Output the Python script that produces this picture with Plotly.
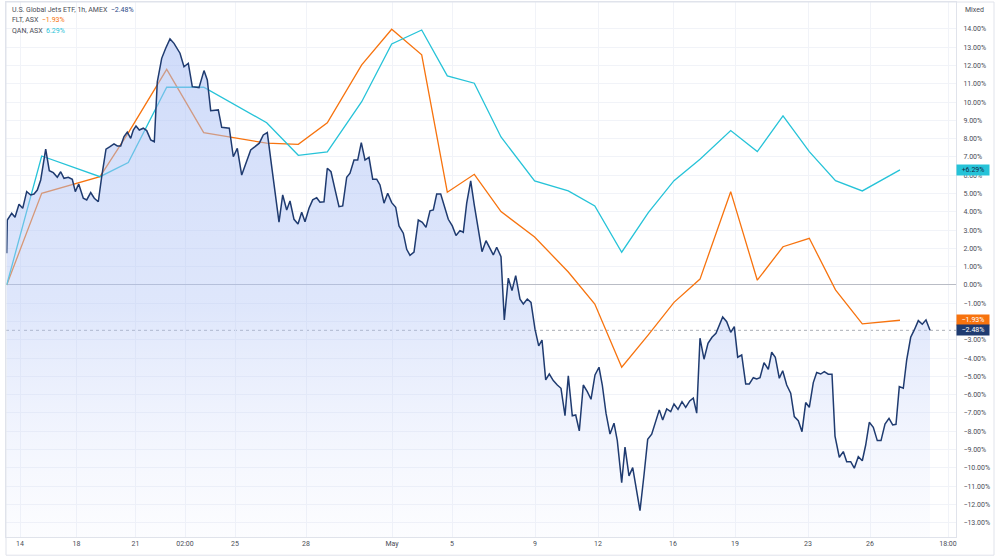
import plotly.graph_objects as go

# ---- data (time axis in session-hour units, values in % change) ----
jets_t = [6.7, 7.3, 11.7, 15, 19, 22.7, 26.7, 30.7, 34, 37.3, 40.7, 43.3, 45.7, 49.3, 53.3, 57.3, 60.7, 64, 68.3, 72.3,
          75.3, 78.7, 83.3, 86.7, 90.7, 94.3, 98.3, 101.7, 106, 110, 114, 117.3, 120.7, 124, 127.3, 130.7, 133.3, 136, 139.3, 143.3,
          146.7, 150.7, 154.3, 157.3, 161.7, 165.7, 170, 174, 180, 184, 188.3, 192.3, 199, 204, 207.3, 210.7, 218.3, 221.7, 229.3, 233.3,
          237.3, 241.7, 246.7, 250.7, 255, 259.3, 263.3, 267.3, 271.7, 279, 282.7, 286.7, 290, 294, 298, 301.7, 305, 309, 312.7, 316.7,
          320, 324, 327.3, 331, 335, 339, 342.7, 346.7, 350, 354, 357.7, 361.3, 365, 369, 372.7, 376.7, 380, 384, 387.7, 391.7,
          395.7, 399, 403.3, 406.7, 410, 414, 418.3, 422.3, 426, 430, 433.3, 436.7, 440.7, 444.3, 448.3, 452.3, 456, 460, 463.3, 466.7,
          470.7, 474.3, 478.3, 482, 486, 490, 493.3, 496.7, 501, 504.3, 508.3, 512, 515.7, 520, 523.3, 527.3, 531, 535, 538.7, 542,
          545.7, 549.3, 553.3, 557.3, 561, 565, 568.3, 572.3, 575.7, 579.3, 583.3, 587.3, 591, 595, 599, 602.3, 606, 610, 614, 617.3,
          621.7, 625, 629, 632.7, 636.7, 640, 644, 647.7, 651.7, 655.7, 659.3, 662.7, 666.7, 670.7, 674, 678, 682, 685.7, 689.7, 693.3,
          696.7, 700, 704, 708, 712, 716, 719.3, 722.7, 726.7, 730.7, 734.3, 737.7, 741.7, 745.7, 749.3, 753.3, 756.7, 760, 764, 768.3,
          771.7, 775.3, 779.3, 782.7, 786.7, 790.7, 794.3, 798.3, 802, 805.7, 809.3, 813.3, 816.7, 820.7, 824.3, 828.3, 832, 835, 839.3, 843.3,
          846.7, 850.7, 854.3, 858.3, 862.3, 865.7, 869.3, 873.3, 877.3, 881, 885, 889, 892.7, 896, 899.3, 903.3, 906.7, 910.7, 914.3, 918.3,
          922.3, 926, 930]
jets_pct = [1.73, 3.55, 3.92, 3.70, 4.41, 4.19, 5.10, 4.92, 4.97, 5.19, 5.74, 6.65, 7.42, 6.25, 6.14, 5.89, 6.19, 5.83, 5.89, 5.78,
            5.10, 5.52, 4.74, 4.65, 5.05, 4.74, 4.55, 5.92, 7.42, 7.56, 7.71, 7.60, 7.60, 8.11, 8.35, 8.02, 8.47, 8.69, 8.47, 8.57,
            8.44, 7.93, 7.83, 11.11, 12.39, 12.94, 13.45, 13.21, 12.67, 11.93, 12.12, 10.84, 10.79, 11.72, 11.21, 9.53, 9.57, 8.62, 8.57, 7.01,
            7.47, 6.01, 6.83, 7.38, 7.56, 7.75, 8.20, 8.33, 6.47, 3.43, 4.92, 4.10, 4.59, 3.59, 3.33, 3.97, 3.46, 4.19, 4.65, 4.77,
            4.52, 4.55, 6.38, 6.19, 5.23, 4.28, 4.32, 5.89, 6.11, 6.83, 6.83, 7.78, 6.83, 6.98, 5.78, 5.78, 5.47, 4.47, 5.01, 4.50,
            4.25, 3.23, 2.83, 1.95, 1.62, 1.80, 3.55, 3.43, 3.15, 4.05, 4.10, 4.97, 4.97, 4.28, 3.59, 3.23, 2.70, 2.97, 2.88, 4.47,
            5.69, 4.37, 3.10, 1.82, 2.42, 2.01, 1.64, 2.06, 1.55, -1.91, 0.37, -0.31, 0.51, -0.78, -1.04, -0.77, -0.95, -2.42, -3.33, -3.01,
            -5.19, -4.87, -5.23, -5.47, -5.65, -7.15, -4.97, -7.15, -7.11, -7.98, -5.47, -5.83, -6.25, -4.92, -4.50, -5.47, -7.01, -8.15, -7.56, -8.51,
            -10.81, -8.87, -10.44, -9.99, -11.21, -12.34, -10.39, -8.44, -8.16, -7.42, -6.83, -7.38, -6.78, -6.93, -6.51, -6.80, -6.38, -6.69, -6.34, -6.19,
            -7.01, -2.91, -4.06, -3.19, -2.86, -2.64, -2.24, -1.75, -2.01, -2.59, -2.28, -3.95, -3.83, -5.41, -5.41, -5.07, -5.14, -5.07, -4.25, -4.61,
            -3.68, -3.95, -5.10, -4.69, -5.47, -5.92, -7.20, -7.42, -8.02, -6.43, -6.69, -5.34, -4.79, -4.87, -4.74, -4.88, -4.88, -8.26, -9.42, -9.11,
            -9.66, -9.66, -10.02, -9.39, -9.61, -8.75, -7.51, -7.78, -8.51, -8.51, -7.60, -7.29, -7.65, -7.62, -5.56, -5.65, -4.10, -2.86, -2.46, -1.95,
            -2.15, -1.91, -2.48]

daily_t = [6.7, 41.7, 100, 128.3, 166.7, 203.7, 266.7, 298.3, 327.3, 361.7, 391.7, 421.7, 447.3, 474.3, 501, 534.6, 568.3,
           594.8, 621.7, 648.3, 674, 700, 730.7, 757.3, 783, 809.3, 835.5, 862.3, 900]
flt_pct = [0, 5.01, 5.92, 8.31, 11.79, 8.33, 7.75, 7.69, 8.87, 12.03, 13.98, 12.58, 5.07, 6.05, 4.01, 2.62, 0.71,
           -1.04, -4.50, -2.73, -0.95, 0.32, 5.10, 0.26, 2.09, 2.55, -0.27, -2.13, -1.93]
qan_pct = [0, 7.05, 5.92, 6.69, 10.81, 10.81, 8.87, 7.09, 7.27, 10.02, 13.18, 13.94, 11.43, 11.03, 8.09, 5.69, 5.14,
           4.32, 1.79, 3.95, 5.70, 6.87, 8.44, 7.29, 9.24, 7.29, 5.70, 5.14, 6.29]

x_tick_labels = ["14", "18", "21", "02:00", "25", "28", "May", "5", "9", "12", "16", "19", "23", "26", "18:00"]
x_tick_pos = [20, 76.5, 135.5, 185, 235, 306, 392, 452, 535, 598, 673, 735, 808, 870, 948]
y_ticks = list(range(-13, 15))

jets_last, flt_last, qan_last = -2.48, -1.93, 6.29

# ---- styling ----
NAVY = "#1f3b70"
ORANGE = "#f7730e"
CYAN = "#26c3d8"
GRID = "#f1f3f8"
BORDER = "#e0e3eb"
TXT = "#4a4d57"
FONT = "Roboto"
Y_MIN, Y_MAX = -13.78, 15.47
X_MIN, X_MAX = 6, 956


def pct(v, plus=False):
    s = f"{abs(v):.2f}%"
    if v < 0:
        return "\u2212" + s
    return ("+" + s) if plus else s


fig = go.Figure()

fig.add_trace(go.Scatter(x=daily_t, y=flt_pct, mode="lines", line=dict(color=ORANGE, width=1.3),
                         hoverinfo="skip", showlegend=False))
fig.add_trace(go.Scatter(x=daily_t, y=qan_pct, mode="lines", line=dict(color=CYAN, width=1.3),
                         hoverinfo="skip", showlegend=False))
# baseline at bottom of the chart for the area fill
fig.add_trace(go.Scatter(x=jets_t, y=[Y_MIN] * len(jets_t), mode="lines", line=dict(width=0, color="rgba(0,0,0,0)"),
                         hoverinfo="skip", showlegend=False))
fig.add_trace(go.Scatter(
    x=jets_t, y=jets_pct, mode="lines", line=dict(color=NAVY, width=1.5),
    fill="tonexty",
    fillgradient=dict(type="vertical", start=Y_MIN, stop=14,
                      colorscale=[[0, "rgba(215,223,252,0.08)"], [0.45, "rgba(178,197,246,0.42)"],
                                  [1, "rgba(168,190,245,0.55)"]]),
    hoverinfo="skip", showlegend=False))

# dotted price line for main series
fig.add_shape(type="line", xref="paper", yref="y", x0=0, x1=1, y0=jets_last, y1=jets_last,
              line=dict(color="#abaeb6", width=1, dash="dot"), layer="below")
# outer frame
fig.add_shape(type="rect", xref="paper", yref="paper", x0=0, x1=1.04, y0=-0.034, y1=1,
              line=dict(color=BORDER, width=1))

annotations = []
# legend lines
legend_rows = [
    ("U.S. Global Jets ETF, 1h, AMEX", jets_last, "#2b4a86", 0.985),
    ("FLT, ASX", flt_last, ORANGE, 0.966),
    ("QAN, ASX", qan_last, CYAN, 0.946),
]
for name, val, col, yp in legend_rows:
    annotations.append(dict(xref="paper", yref="paper", x=0.004, y=yp, xanchor="left", yanchor="middle",
                            showarrow=False, font=dict(family=FONT, size=7, color=TXT),
                            text=f"{name}  <span style='color:{col}'>{pct(val)}</span>"))
annotations.append(dict(xref="paper", yref="paper", x=1.0075, y=0.985, xanchor="left", yanchor="middle",
                        showarrow=False, font=dict(family=FONT, size=7, color=TXT), text="Mixed"))
# last-value badges
badges = [(qan_last, CYAN, "#152a4a", True), (flt_last, ORANGE, "white", False), (jets_last, NAVY, "white", False)]
for val, bg, fc, plus in badges:
    annotations.append(dict(xref="paper", yref="y", x=1.0005, y=val, xanchor="left", yanchor="middle",
                            showarrow=False, bgcolor=bg, width=30, height=8, borderpad=1,
                            font=dict(family=FONT, size=7, color=fc), text=pct(val, plus)))

fig.update_layout(
    width=1000, height=556,
    margin=dict(l=6, r=44, t=2, b=19),
    paper_bgcolor="white", plot_bgcolor="white",
    annotations=annotations,
    xaxis=dict(range=[X_MIN, X_MAX], tickmode="array", tickvals=x_tick_pos, ticktext=x_tick_labels,
               showgrid=True, gridcolor=GRID, gridwidth=1, zeroline=False,
               showline=True, linecolor=BORDER, mirror=True, ticks="",
               tickfont=dict(family=FONT, size=7, color=TXT), fixedrange=True),
    yaxis=dict(range=[Y_MIN, Y_MAX], side="right", tickmode="array", tickvals=y_ticks,
               ticktext=[pct(v) for v in y_ticks],
               showgrid=True, gridcolor=GRID, gridwidth=1,
               zeroline=True, zerolinecolor="#b9bcc5", zerolinewidth=1,
               showline=True, linecolor=BORDER, mirror=True, ticks="",
               ticklabelstandoff=5,
               tickfont=dict(family=FONT, size=7, color=TXT), fixedrange=True),
)

fig.write_html("out.html")
